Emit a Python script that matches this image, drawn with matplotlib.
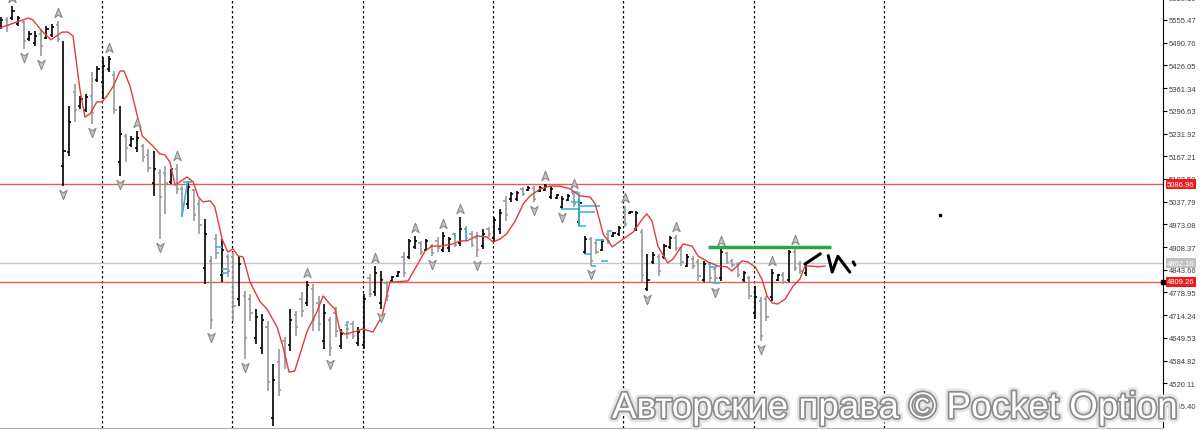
import numpy as np
import matplotlib
matplotlib.use("Agg")
import matplotlib.pyplot as plt
import matplotlib.patheffects as pe
from matplotlib.collections import LineCollection
from matplotlib.path import Path
from matplotlib import transforms

# OHLC bars, index 0..142
opens = [5535, 5556, 5560, 5545, 5550, 5500, 5490, 5515, 5505, 5512,
         5540, 5140, 5180, 5350, 5310, 5300, 5340, 5385, 5380, 5415,
         5400, 5150, 5225, 5200, 5190, 5195, 5170, 5090, 5120, 5120,
         5095, 5130, 5075, 5030, 5070, 5030, 4850, 4870, 4930, 4830,
         4880, 4880, 4760, 4770, 4760, 4650, 4620, 4680, 4420, 4580,
         4640, 4630, 4715, 4760, 4750, 4790, 4750, 4640, 4700, 4720,
         4625, 4685, 4690, 4635, 4630, 4820, 4780, 4750, 4805, 4812,
         4826, 4880, 4880, 4908, 4920, 4900, 4910, 4925, 4900, 4905,
         4945, 4920, 4960, 4945, 4935, 4910, 4960, 4935, 4960, 5040,
         5045, 5045, 5075, 5070, 5078, 5068, 5072, 5050, 5048, 5022,
         5042, 5060, 4980, 4895, 4930, 4920, 4900, 4945, 4940, 4945,
         5010, 5005, 4960, 4950, 4790, 4865, 4880, 4880, 4908, 4935,
         4905, 4855, 4875, 4865, 4815, 4860, 4845, 4820, 4890, 4870,
         4860, 4815, 4820, 4720, 4755, 4760, 4765, 4815, 4830, 4815,
         4895, 4860, 4835]
highs = [5564, 5564, 5595, 5567, 5553, 5524, 5524, 5530, 5538, 5544,
         5553, 5496, 5310, 5373, 5339, 5345, 5407, 5424, 5450, 5453,
         5410, 5310, 5231, 5225, 5239, 5202, 5188, 5182, 5131, 5140,
         5131, 5145, 5082, 5097, 5074, 5045, 4988, 4883, 4946, 4931,
         4889, 4894, 4883, 4783, 4775, 4732, 4718, 4698, 4575, 4618,
         4652, 4732, 4726, 4780, 4812, 4803, 4769, 4746, 4709, 4738,
         4675, 4695, 4698, 4680, 4775, 4832, 4854, 4840, 4812, 4826,
         4840, 4894, 4930, 4940, 4926, 4931, 4917, 4937, 4951, 4937,
         4948, 4994, 4968, 4954, 4951, 4960, 4966, 4994, 5017, 5054,
         5065, 5068, 5080, 5082, 5082, 5082, 5088, 5082, 5060, 5054,
         5060, 5065, 5045, 4940, 4937, 4931, 4931, 4954, 4951, 4968,
         5025, 5011, 5011, 4960, 4889, 4894, 4889, 4917, 4940, 4943,
         4911, 4889, 4883, 4874, 4869, 4866, 4854, 4903, 4894, 4874,
         4866, 4840, 4826, 4797, 4766, 4769, 4846, 4832, 4837, 4900,
         4906, 4869, 4866]
lows = [5530, 5521, 5555, 5538, 5473, 5496, 5481, 5453, 5501, 5507,
        5493, 5082, 5168, 5265, 5302, 5293, 5259, 5379, 5330, 5407,
        5288, 5111, 5151, 5194, 5179, 5151, 5122, 5054, 4931, 5003,
        5088, 5060, 4994, 5017, 4983, 4946, 4803, 4675, 4875, 4809,
        4823, 4698, 4740, 4589, 4698, 4632, 4604, 4498, 4398, 4484,
        4561, 4612, 4655, 4709, 4740, 4669, 4669, 4618, 4598, 4652,
        4618, 4646, 4646, 4626, 4618, 4766, 4769, 4732, 4755, 4809,
        4823, 4823, 4874, 4903, 4886, 4897, 4883, 4894, 4894, 4894,
        4909, 4911, 4926, 4909, 4880, 4903, 4937, 4923, 4946, 4983,
        5037, 5040, 5054, 5068, 5037, 5065, 5068, 5045, 5045, 5017,
        5040, 5023, 4968, 4889, 4854, 4889, 4897, 4917, 4937, 4940,
        4966, 5003, 4954, 4809, 4783, 4860, 4826, 4874, 4903, 4897,
        4854, 4852, 4846, 4812, 4809, 4809, 4803, 4812, 4860, 4852,
        4823, 4809, 4760, 4703, 4640, 4698, 4755, 4811, 4803, 4809,
        4840, 4832, 4826]
closes = [5556, 5540, 5580, 5560, 5495, 5515, 5510, 5480, 5530, 5535,
          5500, 5182, 5265, 5300, 5330, 5335, 5290, 5415, 5425, 5445,
          5300, 5230, 5190, 5215, 5220, 5165, 5135, 5130, 5050, 5090,
          5130, 5075, 5030, 5080, 5000, 4970, 4945, 4700, 4890, 4900,
          4840, 4740, 4860, 4650, 4720, 4710, 4700, 4525, 4530, 4500,
          4590, 4700, 4680, 4725, 4800, 4700, 4690, 4720, 4620, 4670,
          4660, 4660, 4655, 4665, 4760, 4775, 4835, 4815, 4770, 4822,
          4836, 4835, 4925, 4925, 4895, 4925, 4890, 4905, 4940, 4930,
          4915, 4960, 4935, 4915, 4900, 4945, 4945, 4985, 5005, 5000,
          5060, 5062, 5060, 5078, 5045, 5078, 5082, 5075, 5058, 5045,
          5055, 5030, 5035, 4930, 4870, 4895, 4925, 4925, 4948, 4962,
          4975, 5009, 5005, 4830, 4815, 4885, 4840, 4910, 4935, 4905,
          4865, 4880, 4855, 4825, 4860, 4820, 4820, 4895, 4865, 4858,
          4830, 4835, 4770, 4765, 4655, 4710, 4835, 4828, 4810, 4895,
          4850, 4840, 4862.16]

# red moving average (shifted), read point by point
ma_x = [-0.2, 4.8, 5.6, 7.2, 8.8, 10.8, 11.8, 12.7, 13.9, 14.8, 15.7, 16.9,
        17.8, 18.7, 19.8, 21.0, 21.7, 22.8, 24.9, 26.8, 28.0, 28.9, 29.8,
        30.7, 32.8, 33.9, 34.8, 35.6, 36.9, 37.7, 39.0, 40.0, 40.9, 41.8,
        42.7, 43.9, 45.7, 46.9, 48.7, 49.7, 50.8, 51.8, 54.0, 55.7, 56.8,
        58.0, 58.9, 59.8, 60.7, 62.8, 63.8, 65.6, 67.2, 68.6, 69.8, 71.8,
        73.0, 74.8, 76.0, 77.4, 79.7, 81.0, 82.2, 83.9, 85.7, 86.8, 88.0,
        89.2, 90.7, 92.1, 93.3, 95.1, 96.8, 98.6, 100.4, 102.1, 103.9,
        104.8, 106.2, 107.8, 109.7, 111.5, 113.1, 113.9, 114.8, 115.9,
        117.6, 118.5, 120.3, 121.9, 122.9, 124.7, 126.5, 128.0, 128.9,
        129.8, 130.7, 131.7, 133.0, 134.2, 135.1, 136.0, 137.0, 138.3,
        139.7, 140.9, 141.8, 143.0, 144.1, 145.3]
ma_p = [5533, 5561, 5556, 5524, 5499, 5521, 5521, 5510, 5359, 5279, 5288, 5322,
        5322, 5339, 5367, 5410, 5410, 5365, 5225, 5196, 5174, 5171, 5150,
        5085, 5108, 5094, 5051, 5037, 5040, 5023, 4931, 4894, 4903, 4883,
        4880, 4809, 4752, 4732, 4680, 4626, 4552, 4555, 4669, 4723, 4769,
        4746, 4732, 4669, 4660, 4669, 4675, 4666, 4712, 4809, 4809, 4812,
        4846, 4897, 4911, 4911, 4917, 4926, 4926, 4940, 4937, 4923, 4931,
        4946, 4983, 5031, 5054, 5074, 5082, 5082, 5074, 5054, 5051,
        5031, 4946, 4909, 4931, 4951, 4988, 5003, 4983, 4909,
        4863, 4874, 4917, 4911, 4883, 4866, 4854, 4852, 4840,
        4854, 4869, 4866, 4852, 4817, 4769, 4749, 4746, 4760,
        4797, 4817, 4854, 4854, 4852, 4854]

fractal_up = [2, 10, 19, 24, 31, 54, 66, 73, 78, 81, 96, 101, 110, 119, 127, 136, 140]
fractal_down = [4, 7, 11, 16, 21, 28, 37, 43, 48, 58, 67, 76, 84, 94, 99, 104, 114, 126, 134]

# cyan indicator segments (x0, x1, p0, p1)
cyan_x0 = [31.9, 32.1, 37.8, 38.9, 38.9, 60.8, 60.8, 80.0, 82.0, 98.8, 101.8, 101.8,
           101.8, 100.5, 100.5, 101.9, 103.0, 104.0, 105.0, 105.8, 106.8, 124.9, 125.6]
cyan_x1 = [32.9, 33.6, 39.0, 39.9, 39.9, 61.4, 61.4, 80.0, 82.0, 101.8, 105.7, 104.8,
           103.2, 101.8, 101.8, 101.9, 104.0, 105.0, 106.3, 107.0, 107.8, 126.2, 126.8]
cyan_p0 = [4994, 5094, 4909, 4846, 4834, 4695, 4675, 4937, 4926, 5017, 5025, 5008,
           4968, 5065, 5037, 4968, 4889, 4854, 4928, 4868, 4954, 4852, 4806]
cyan_p1 = [5094, 5094, 4909, 4846, 4834, 4695, 4675, 4948, 4962, 5017, 5025, 5008,
           4968, 5065, 5037, 5065, 4889, 4854, 4928, 4868, 4954, 4852, 4806]

separators = [17.8, 40.8, 63.8, 86.8, 109.7, 132.8, 155.7]
red_levels = [5086.96, 4809.26]
last_price = 4862.16
green_x = [124.7, 146.4]
green_p = [4908.5, 4908.5]
# hand drawn strokes
strokes = [
    ([141.8, 144.5], [4860, 4889]),
    ([145.9, 146.6, 147.6, 149.7], [4884, 4837, 4882, 4837]),
    ([150.3, 150.6], [4866, 4857]),
]
dot = (165.6, 5000)
yticks = [5620.18, 5555.47, 5490.76, 5426.05, 5361.34, 5296.63, 5231.92, 5167.21,
          5102.50, 5037.79, 4973.08, 4908.37, 4843.66, 4778.95, 4714.24, 4649.53,
          4584.82, 4520.11, 4455.40]

W, H = 1200, 431
fig = plt.figure(figsize=(W / 100, H / 100), dpi=100)
ax = fig.add_axes([0, 2 / H, 1163 / W, 434 / H])
ax.set_xlim(-0.18, 204.94)
ax.set_ylim(4392.65, 5629.5)

for s in separators:
    ax.axvline(s, color="black", lw=0.9, ls=(0, (2, 2)), zorder=1)

for lv in red_levels:
    ax.axhline(lv, color="#e8595a", lw=1.0, zorder=2)
ax.axhline(last_price, color="#c8c8c8", lw=1.0, zorder=2)

# bars
segs, cols = [], []
for i in range(len(opens)):
    c = "black" if closes[i] >= opens[i] else "#9a9a9a"
    segs.append([(i, lows[i]), (i, highs[i])])
    segs.append([(i - 0.38, opens[i]), (i, opens[i])])
    segs.append([(i, closes[i]), (i + 0.38, closes[i])])
    cols += [c, c, c]
ax.add_collection(LineCollection(segs, colors=cols, linewidths=1.2, zorder=3))

cseg = [[(cyan_x0[k], cyan_p0[k]), (cyan_x1[k], cyan_p1[k])] for k in range(len(cyan_x0))]
ax.add_collection(LineCollection(cseg, colors="#3bb8d8", linewidths=1.2, zorder=4))

ax.plot(ma_x, ma_p, color="#e23b3b", lw=1.0, zorder=5)

# fractal arrows
up_m = Path([(0, 1), (0.7, -0.8), (0, -0.3), (-0.7, -0.8), (0, 1)],
            [Path.MOVETO, Path.LINETO, Path.LINETO, Path.LINETO, Path.CLOSEPOLY])
dn_m = Path([(0, -1), (0.7, 0.8), (0, 0.3), (-0.7, 0.8), (0, -1)],
            [Path.MOVETO, Path.LINETO, Path.LINETO, Path.LINETO, Path.CLOSEPOLY])
tr_up = transforms.offset_copy(ax.transData, fig=fig, y=8, units="dots")
tr_dn = transforms.offset_copy(ax.transData, fig=fig, y=-8, units="dots")
ax.plot(fractal_up, [highs[i] for i in fractal_up], ls="none", marker=up_m, ms=7.5,
        mfc="#c8c8c8", mec="#8a8a8a", mew=0.8, transform=tr_up, zorder=6)
ax.plot(fractal_down, [lows[i] for i in fractal_down], ls="none", marker=dn_m, ms=7.5,
        mfc="#c8c8c8", mec="#8a8a8a", mew=0.8, transform=tr_dn, zorder=6)

ax.plot(green_x, green_p, color="#2aa845", lw=2.5, zorder=6, solid_capstyle="butt")
for sx, sp in strokes:
    ax.plot(sx, sp, color="black", lw=2.2, zorder=7, solid_capstyle="round")
ax.plot([dot[0]], [dot[1]], marker="s", ms=1.8, color="black", ls="none")

# right price scale
ax.yaxis.tick_right()
ax.set_yticks(yticks)
ax.set_yticklabels(["%.2f" % v for v in yticks])
ax.tick_params(axis="y", length=3, width=0.8, color="black", pad=1,
               labelsize=5.5, labelcolor="#404040")
for t in ax.get_yticklabels():
    t.set_fontfamily("Liberation Sans")
ax.set_xticks([])
for side in ["left", "top"]:
    ax.spines[side].set_visible(False)
ax.spines["right"].set_color("black")
ax.spines["bottom"].set_color("#b0b0b0")

blend = transforms.blended_transform_factory(ax.transAxes, ax.transData)
for lv, fc in [(red_levels[0], "#f01c1c"), (red_levels[1], "#f01c1c"), (last_price, "#c0c0c0")]:
    ax.text(1.0035, lv, "%.2f" % lv, transform=blend, fontsize=5.5, color="white",
            family="Liberation Sans", va="center", ha="left", zorder=10,
            bbox=dict(boxstyle="square,pad=0.2", fc=fc, ec="none"))
ax.plot([1.0], [red_levels[1]], marker="s", ms=3, color="black", transform=blend,
        clip_on=False, zorder=11)

fig.text(612 / W, 1 - 419 / H, "Авторские права © Pocket Option", fontsize=26.5,
         family="Liberation Sans", color="white", va="baseline", ha="left",
         path_effects=[pe.Stroke(linewidth=6, foreground="#e4e4e4"),
                       pe.Stroke(linewidth=2.5, foreground="#8c8c8c"), pe.Normal()])

fig.savefig("out.png", dpi=100)
